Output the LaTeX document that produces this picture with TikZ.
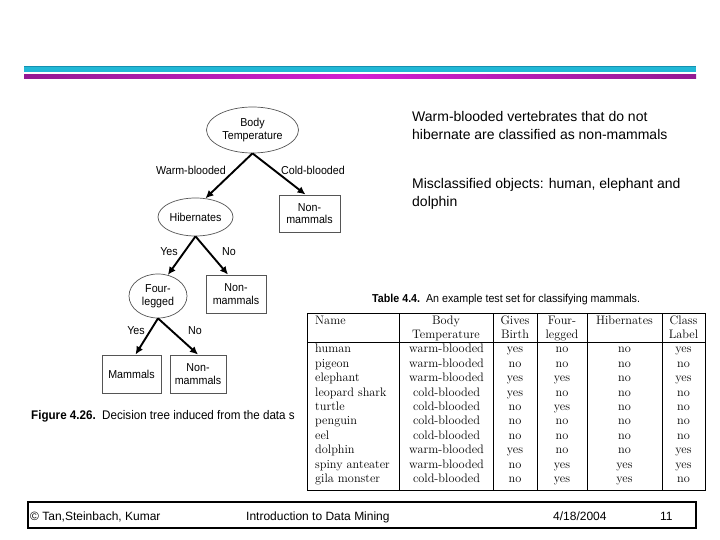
\documentclass[tikz,border=0pt]{standalone}
\usepackage{fontspec}
\newfontfamily\arialf{Liberation Sans}
\newfontfamily\narrowf{Liberation Sans}[FakeStretch=0.93]
\usetikzlibrary{shapes.geometric,arrows.meta,calc}
\definecolor{cyanbar}{HTML}{22B8D6}
\definecolor{cyandark}{HTML}{1590B0}
\definecolor{magbar}{HTML}{D21ED2}
\definecolor{magdark}{HTML}{931A93}
\definecolor{treegray}{HTML}{555555}
\newcommand\tabfont{\fontsize{12.3}{14}\selectfont}
\begin{document}
\begin{tikzpicture}[x=1pt,y=-1pt,
  treetext/.style={font=\narrowf\fontsize{11.5}{12.5}\selectfont},
  ell/.style={ellipse, draw=treegray, line width=0.7pt, inner sep=0pt, align=center, treetext},
  leaf/.style={rectangle, draw=treegray, line width=0.9pt, inner sep=0pt, align=center, treetext},
  edge/.style={line width=1.9pt, -{Latex[length=8pt,width=7.5pt]}},
  elabel/.style={treetext, inner sep=0pt},
  bodytext/.style={font=\arialf\fontsize{14}{17}\selectfont, anchor=base west, inner sep=0pt},
  foot/.style={font=\arialf\fontsize{12}{14}\selectfont, anchor=base west, inner sep=0pt},
  cellt/.style={font=\tabfont, inner sep=0pt, anchor=base},
  tline/.style={line width=0.8pt}
]
\useasboundingbox (0,0) rectangle (720,540);
\fill[white] (0,0) rectangle (720,540);

% header bars
\fill[cyanbar] (24,66) rectangle (696,72);
\fill[cyandark] (24,66) rectangle (696,67.5);
\shade[left color=magdark, right color=magdark, middle color=magbar] (24,75) rectangle (696,79);

% tree
\node[ell, minimum width=92pt, minimum height=46pt] (bt) at (252.5,130) {Body\\Temperature};
\node[ell, minimum width=75pt, minimum height=38pt] (hib) at (195.5,217) {Hibernates};
\node[leaf, minimum width=61pt, minimum height=37pt] (nm1) at (309.5,213.5) {Non-\\mammals};
\node[ell, minimum width=58pt, minimum height=44pt] (fl) at (158,296) {Four-\\legged};
\node[leaf, minimum width=60pt, minimum height=38pt] (nm2) at (236,294) {Non-\\mammals};
\node[leaf, minimum width=59pt, minimum height=38pt] (mam) at (131.5,374) {Mammals};
\node[leaf, minimum width=56pt, minimum height=38pt] (nm3) at (198,374) {Non-\\mammals};

\draw[edge] (bt.south) -- (hib.62);
\draw[edge] (bt.south) -- ($(nm1.north)+(-4,0)$);
\draw[edge] (hib.south) -- (fl.65);
\draw[edge] (hib.south) -- ($(nm2.north)+(-8,0)$);
\draw[edge] (fl.south) -- ($(mam.north)+(4,0)$);
\draw[edge] (fl.south) -- (nm3.north);

\node[elabel] (lwarm) at (191,170) {Warm-blooded};
\node[elabel] (lcold) at (313,170) {Cold-blooded};
\node[elabel] (lyes1) at (169,252) {Yes};
\node[elabel] (lno1) at (229,252) {No};
\node[elabel] (lyes2) at (136,331) {Yes};
\node[elabel] (lno2) at (195,331) {No};

\node[anchor=base east, font=\narrowf\bfseries\fontsize{12.5}{14}\selectfont, inner sep=0pt] (figno) at (96,419) {Figure 4.26.};
\node[anchor=base west, font=\narrowf\fontsize{12.5}{14}\selectfont, inner sep=0pt] (figcap) at (102,419) {Decision tree induced from the data s};

% right text
\node[bodytext] (t1) at (412,122) {Warm-blooded vertebrates that do not};
\node[bodytext] (t2) at (412,140) {hibernate are classified as non-mammals};
\node[bodytext] (t3) at (412,189) {Misclassified objects: human, elephant and};
\node[bodytext] (t4) at (412,207) {dolphin};

% table caption
\node[anchor=base west, inner sep=0pt, font=\narrowf\fontsize{11.5}{13}\selectfont] (tcap) at (372,302) {\textbf{Table 4.4.}\ \ An example test set for classifying mammals.};

% table
\filldraw[fill=white, draw=black, tline] (307,313) rectangle (705,490);
\draw[tline] (307,342.5) -- (705,342.5);
\foreach \xx in {399,493,537,587,662} \draw[tline] (\xx,313) -- (\xx,490);

\node[cellt, anchor=base west] (hname) at (315,324) {Name};
\node[cellt] (hbody1) at (446,324) {Body};
\node[cellt] (hbody2) at (446,338) {Temperature};
\node[cellt] (hgive1) at (515,324) {Gives};
\node[cellt] (hgive2) at (515,338) {Birth};
\node[cellt] (hfour1) at (562,324) {Four-};
\node[cellt] (hfour2) at (562,338) {legged};
\node[cellt] (hhib) at (624.5,324) {Hibernates};
\node[cellt] (hcls1) at (683.5,324) {Class};
\node[cellt] (hcls2) at (683.5,338) {Label};

\foreach \n/\b/\g/\f/\h/\c [count=\i] in {
  human/warm-blooded/yes/no/no/yes,
  pigeon/warm-blooded/no/no/no/no,
  elephant/warm-blooded/yes/yes/no/yes,
  leopard shark/cold-blooded/yes/no/no/no,
  turtle/cold-blooded/no/yes/no/no,
  penguin/cold-blooded/no/no/no/no,
  eel/cold-blooded/no/no/no/no,
  dolphin/warm-blooded/yes/no/no/yes,
  spiny anteater/warm-blooded/no/yes/yes/yes,
  gila monster/cold-blooded/no/yes/yes/no}{
  \pgfmathsetmacro\yy{352.7+(\i-1)*14.44}
  \node[cellt, anchor=base west] (name\i) at (315,\yy) {\n};
  \node[cellt] (body\i) at (446.5,\yy) {\b};
  \node[cellt] (give\i) at (515,\yy) {\g};
  \node[cellt] (four\i) at (562,\yy) {\f};
  \node[cellt] (hib\i) at (624.5,\yy) {\h};
  \node[cellt] (cls\i) at (683.5,\yy) {\c};
}

% footer
\draw[line width=1.6pt] (28,502) rectangle (696,528);
\node[foot] (f1) at (30,520) {© Tan,Steinbach, Kumar};
\node[foot] (f2) at (246,520) {Introduction to Data Mining};
\node[foot] (f3) at (553,520) {4/18/2004};
\node[foot] (f4) at (660,520) {11};
\end{tikzpicture}
\end{document}
